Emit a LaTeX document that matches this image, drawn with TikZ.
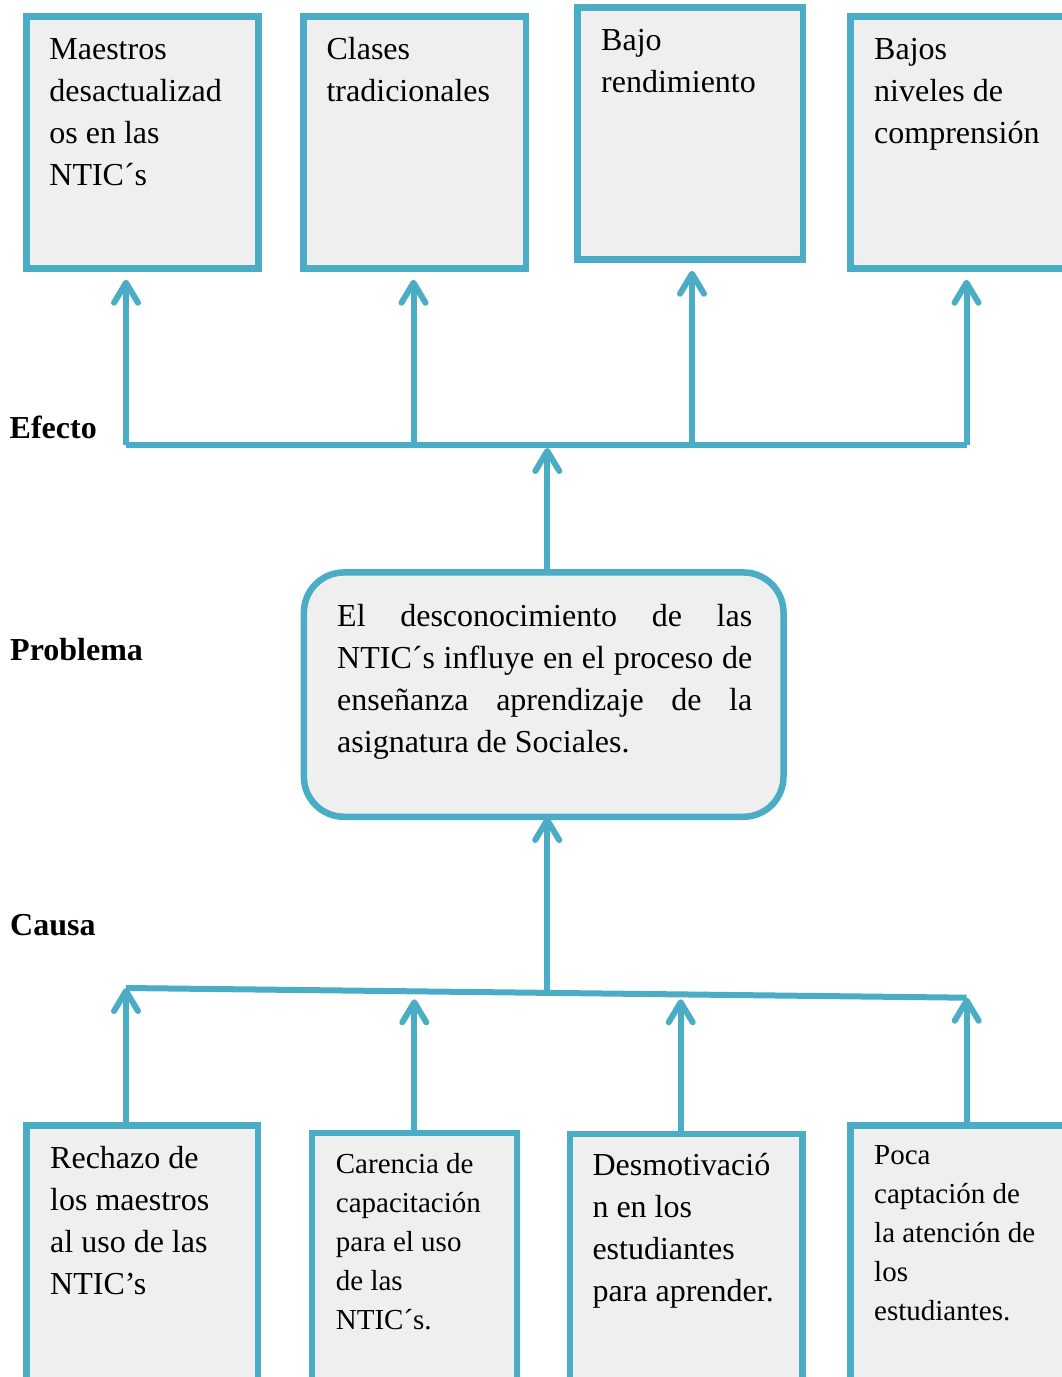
\documentclass[tikz,border=0pt]{standalone}
\usepackage{fontspec}
\setmainfont{Liberation Serif}
\usetikzlibrary{arrows.meta,calc}
\definecolor{azul}{HTML}{4BACC6}
\definecolor{gris}{HTML}{EFEFEF}

\begin{document}
\begin{tikzpicture}[x=1pt,y=-1pt,
    caja/.style={draw=azul, fill=gris, line width=6.5pt, inner sep=0pt},
    texto/.style={anchor=base west, inner sep=0pt, align=flush left, text width=#1, font=\fontsize{32}{42}\selectfont},
    texto/.default=230,
    textochico/.style={anchor=base west, inner sep=0pt, align=flush left, text width=#1, font=\fontsize{29}{39}\selectfont},
    textochico/.default=200,
    titulo/.style={anchor=base west, inner sep=0pt, font=\fontsize{32}{42}\selectfont\bfseries},
    linea/.style={draw=azul, line width=6pt},
    flecha/.style={draw=azul, line width=6pt, -{Straight Barb[length=20pt,width=24pt,round]}}]
				\useasboundingbox (0,0) rectangle (1062,1377);

				\node[caja, minimum width=232, minimum height=252] (e1) at (142.25,142.5) {};
				\node[caja, minimum width=222.5, minimum height=252] (e2) at (414.75,142.5) {};
				\node[caja, minimum width=225.3, minimum height=252.2] (e3) at (690.15,133.4) {};
				\node[caja, minimum width=239.5, minimum height=252] (e4) at (970.25,142.5) {};
				\node[texto] (e1t) at (49.2,59.3) {Maestros\\desactualizad\\os en las\\NTIC´s};
				\node[texto] (e2t) at (326.4,59.3) {Clases\\tradicionales};
				\node[texto] (e3t) at (601,50.7) {Bajo\\rendimiento};
				\node[texto] (e4t) at (874,59.3) {Bajos\\niveles de\\comprensión};

				\node[caja, rounded corners=40pt, minimum width=479.6, minimum height=244.3] (p) at (543.7,694.6) {};
				\node[texto=415, align=justify] (pt) at (337,626) {El desconocimiento de las\linebreak NTIC´s influye en el proceso de\linebreak enseñanza aprendizaje de la\linebreak asignatura de Sociales.};

				\node[caja, minimum width=231.5, minimum height=274.5] (c1) at (142,1262.75) {};
				\node[caja, minimum width=204.7, minimum height=266.75] (c2) at (414.45,1266.6) {};
				\node[caja, minimum width=232.6, minimum height=266] (c3) at (686.2,1267) {};
				\node[caja, minimum width=239.5, minimum height=274.5] (c4) at (970.25,1262.75) {};
				\node[texto] (c1t) at (50,1168.3) {Rechazo de\\los maestros\\al uso de las\\NTIC’s};
				\node[textochico] (c2t) at (335.7,1173.3) {Carencia de\\capacitación\\para el uso\\de las\\NTIC´s.};
				\node[texto] (c3t) at (592.3,1175) {Desmotivació\\n en los\\estudiantes\\para aprender.};
				\node[textochico] (c4t) at (874,1164) {Poca\\captación de\\la atención de\\los\\estudiantes.};

				\node[titulo] (efecto) at (9.5,438.3) {Efecto};
				\node[titulo] (problema) at (10,660) {Problema};
				\node[titulo] (causa) at (10,935) {Causa};

				\coordinate (ef1) at (126,445);
				\coordinate (ef2) at (413.5,445);
				\coordinate (ef3) at (692,445);
				\coordinate (ef4) at (966.5,445);
				\draw[linea] (ef1) -- (ef4);
				\draw[flecha, shorten >=8pt] (ef1) -- (ef1 |- e1.south);
				\draw[flecha, shorten >=8pt] (ef2) -- (ef2 |- e2.south);
				\draw[flecha, shorten >=8pt] (ef3) -- (ef3 |- e3.south);
				\draw[flecha, shorten >=8pt] (ef4) -- (ef4 |- e4.south);
				\coordinate (pn) at (547.3,572.5);
				\draw[flecha, shorten >=3pt] (pn) -- (pn |- ef1);

				\coordinate (ca1) at (126,988);
				\coordinate (ca4) at (966.7,997.7);
				\draw[linea] (ca1) -- (ca4);
				\coordinate (cm) at ($(ca1)!0.501!(ca4)$);
				\draw[flecha, shorten >=-3pt] (cm) -- (cm |- p.south);
				\coordinate (cb) at (414.3,999.3);
				\coordinate (cc) at (680.7,999.3);
				\draw[flecha] (ca1 |- c1.north) -- (ca1);
				\draw[flecha] (cb |- c2.north) -- (cb);
				\draw[flecha] (cc |- c3.north) -- (cc);
				\draw[flecha] (ca4 |- c4.north) -- (ca4);
			\end{tikzpicture}
\end{document}
